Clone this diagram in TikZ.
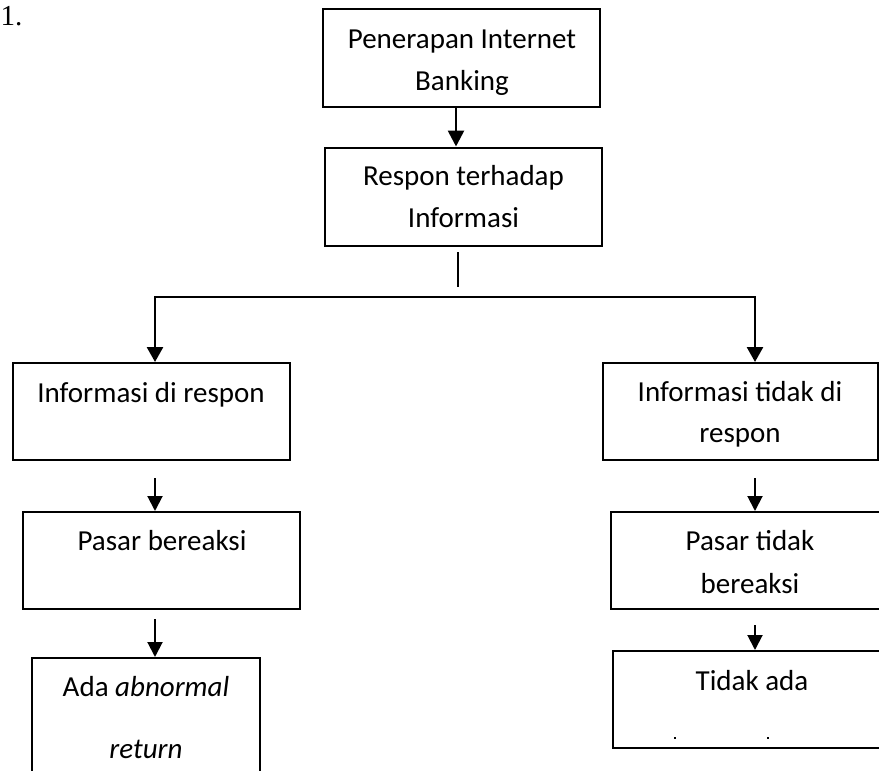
\documentclass[tikz,border=0pt]{standalone}
\usepackage{fontspec}
\setmainfont{Carlito}
\newfontfamily\timesfont{Liberation Serif}
\usetikzlibrary{arrows.meta}
\begin{document}
\begin{tikzpicture}[x=1pt,y=-1pt,
  box/.style={draw, line width=2pt, rectangle, inner sep=0pt},
  lbl/.style={font=\fontsize{29}{35}\selectfont, anchor=base, inner sep=0pt},
  arr/.style={line width=2pt, -{Triangle[length=15pt,width=15pt]}},
  arrb/.style={line width=2.7pt, -{Triangle[length=16pt,width=16pt]}},
  arrbb/.style={line width=2.7pt, {Triangle[length=15pt,width=16pt]}-{Triangle[length=15pt,width=16pt]}},
]
\clip (0,0) rectangle (879,771);

% number
\node[font=\timesfont\fontsize{29}{35}\selectfont, anchor=base west, inner sep=0pt] (num) at (0.5,25) {1.};

% boxes
\node[box, minimum width=277pt, minimum height=98pt] (b1) at (461.5,58) {};
\node[box, minimum width=277pt, minimum height=98pt] (b2) at (463,196.5) {};
\node[box, minimum width=277pt, minimum height=97pt] (b3) at (151.5,411.5) {};
\node[box, minimum width=275pt, minimum height=97pt] (b4) at (740.5,411.5) {};
\node[box, minimum width=277pt, minimum height=97pt] (b5) at (161.5,560.5) {};
\node[box, minimum width=228pt, minimum height=124pt] (b6) at (146,720) {};
\node[box, minimum width=278pt, minimum height=97pt] (b7) at (750,560.5) {};
\node[box, minimum width=278pt, minimum height=97pt] (b8) at (752,699.5) {};

% texts
\node[lbl] (t1a) at (462,48) {Penerapan Internet};
\node[lbl] (t1b) at (462,90) {Banking};
\node[lbl] (t2a) at (463.5,185) {Respon terhadap};
\node[lbl] (t2b) at (463.5,227) {Informasi};
\node[lbl] (t3) at (151,402) {Informasi di respon};
\node[lbl] (t4a) at (740,401) {Informasi tidak di};
\node[lbl] (t4b) at (740,442) {respon};
\node[lbl] (t5) at (162,550) {Pasar bereaksi};
\node[lbl] (t7a) at (750,550) {Pasar tidak};
\node[lbl] (t7b) at (750,593) {bereaksi};
\node[lbl] (t6a) at (146,696) {Ada \textit{abnormal}};
\node[lbl] (t6b) at (146,758) {\textit{return}};
\node[lbl] (t8) at (752,690) {Tidak ada};
\fill (674,737) rectangle (676,739);
\fill (767,737) rectangle (769,739);

% coordinates for connectors
\coordinate (xT) at (456,0);
\coordinate (xL) at (155,0);
\coordinate (xR) at (755,0);
\coordinate (h) at (455,297);
\coordinate (v1) at (458,252);
\coordinate (v2) at (458,287);
\coordinate (s3) at (155,478);
\coordinate (s5) at (155,619);
\coordinate (s4) at (755,478);
\coordinate (s7) at (755,625);

% connectors
\draw[arrb] (b1.south -| xT) -- (b2.north -| xT);
\draw[line width=2pt] (v1) -- (v2);
\draw[arrbb, line join=miter] (b3.north -| xL) |- (h) -| (b4.north -| xR);
\draw[arr] (s3) -- (s3 |- b5.north);
\draw[arr] (s5) -- (s5 |- b6.north);
\draw[arr] (s4) -- (s4 |- b7.north);
\draw[arr] (s7) -- (s7 |- b8.north);
\end{tikzpicture}
\end{document}
